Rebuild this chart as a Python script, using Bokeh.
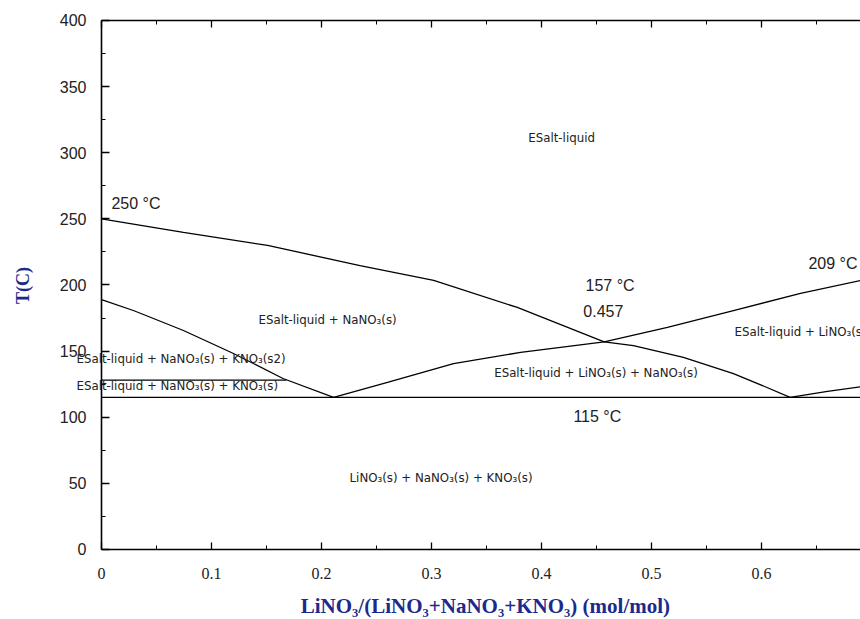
import math
from bokeh.plotting import figure
from bokeh.models import Range1d, LinearAxis, FixedTicker, Label
from bokeh.embed import file_html
from bokeh.resources import INLINE

# ---- data ----
x_ticks = [0, 0.1, 0.2, 0.3, 0.4, 0.5, 0.6, 0.7]
x_tick_labels = ["0", "0.1", "0.2", "0.3", "0.4", "0.5", "0.6", "0.7"]
x_minor = [0.05, 0.15, 0.25, 0.35, 0.45, 0.55, 0.65]
y_ticks = [0, 50, 100, 150, 200, 250, 300, 350, 400]
y_minor = [25, 75, 125, 175, 225, 275, 325, 375]

# NaNO3 liquidus (250 C at x=0, through 0.457/157 C, down to 115 C)
nano3_x = [0, 0.0745, 0.151, 0.235, 0.302, 0.378, 0.457, 0.4836, 0.529, 0.5745, 0.605, 0.626]
nano3_T = [250, 239.7, 229.9, 214.7, 203.4, 183, 157, 154.2, 145.2, 133, 122.5, 115]

# KNO3 liquidus
kno3_x = [0, 0.029, 0.0745, 0.12, 0.165, 0.211]
kno3_T = [189, 180.7, 165.6, 148.2, 129.3, 115]

# LiNO3 liquidus
lino3_x = [0.211, 0.26, 0.32, 0.381, 0.457, 0.5145, 0.5745, 0.6355, 0.69]
lino3_T = [115, 126.3, 140.6, 149, 157, 167.9, 180.7, 193.6, 203.4]

# right branch from second eutectic
right_x = [0.626, 0.66, 0.69]
right_T = [115, 119.5, 123]

# eutectic line and KNO3 transition line
eut_x = [0, 0.69]
eut_T = [115, 115]
trans_x = [0, 0.168]
trans_T = [128, 128]

labels_small = [
    ("ESalt-liquid", 0.388, 310.8),
    ("ESalt-liquid + NaNO\u2083(s)", 0.1427, 173.9),
    ("ESalt-liquid + NaNO\u2083(s) + KNO\u2083(s2)", -0.0227, 143.7),
    ("ESalt-liquid + NaNO\u2083(s) + KNO\u2083(s)", -0.0227, 123.3),
    ("ESalt-liquid + LiNO\u2083(s) + NaNO\u2083(s)", 0.357, 133.1),
    ("ESalt-liquid + LiNO\u2083(s)", 0.5755, 164.8),
    ("LiNO\u2083(s) + NaNO\u2083(s) + KNO\u2083(s)", 0.2255, 53.7),
]
labels_big = [
    ("250 \u00b0C", 0.009, 261.6),
    ("157 \u00b0C", 0.44, 199.6),
    ("0.457", 0.438, 180.0),
    ("209 \u00b0C", 0.6427, 216.3),
    ("115 \u00b0C", 0.429, 100.6),
]
x_title = "LiNO\u2083/(LiNO\u2083+NaNO\u2083+KNO\u2083) (mol/mol)"
y_title = "T(C)"

# the frame covers the whole canvas; axes sit at x = 0 / T = 0 / T = 400
X0, X1 = -0.0918, 0.69
Y0, Y1 = -52.93, 415.1

p = figure(width=860, height=619, output_backend="svg", toolbar_location=None,
           x_range=Range1d(X0, X1), y_range=Range1d(Y0, Y1),
           x_axis_location=None, y_axis_location=None,
           min_border_left=0, min_border_right=0, min_border_top=0, min_border_bottom=0)
p.outline_line_color = None
p.xgrid.visible = False
p.ygrid.visible = False
p.background_fill_color = "white"
p.border_fill_color = "white"

lc = "#000000"
for xs, ts in [(nano3_x, nano3_T), (kno3_x, kno3_T), (lino3_x, lino3_T),
               (right_x, right_T), (eut_x, eut_T), (trans_x, trans_T)]:
    p.line(xs, ts, line_color=lc, line_width=1.3)

axis_col = "#1c2a8c"
tick_col = "#222222"

# bottom axis at T = 0
xa = LinearAxis(ticker=FixedTicker(ticks=x_ticks, minor_ticks=x_minor), bounds=(0, X1),
                fixed_location=0)
xa.major_label_overrides = {t: l for t, l in zip(x_ticks, x_tick_labels)}
xa.major_tick_in = 7
xa.major_tick_out = 0
xa.minor_tick_in = 4
xa.minor_tick_out = 0
xa.axis_line_width = 1.6
xa.major_tick_line_width = 1.3
xa.major_label_standoff = 19
xa.major_label_text_font = "Liberation Sans Narrow"
xa.major_label_text_font_size = "16px"
xa.major_label_text_color = tick_col
p.add_layout(xa, "below")

# left axis at x = 0
ya = LinearAxis(ticker=FixedTicker(ticks=y_ticks, minor_ticks=y_minor), bounds=(0, 400),
                fixed_location=0)
ya.major_tick_in = 8
ya.major_tick_out = 0
ya.minor_tick_in = 4
ya.minor_tick_out = 0
ya.axis_line_width = 1.6
ya.major_tick_line_width = 1.3
ya.major_label_standoff = 15
ya.major_label_text_font = "Liberation Sans"
ya.major_label_text_font_size = "16px"
ya.major_label_text_color = tick_col
p.add_layout(ya, "left")

# top border: two tick-only axes at T = 400 (long ticks at majors, short at minors)
top_major = LinearAxis(ticker=FixedTicker(ticks=[], minor_ticks=x_ticks), bounds=(0, X1),
                       fixed_location=400, minor_tick_in=7, minor_tick_out=0,
                       minor_tick_line_width=1.3, axis_line_width=1.6,
                       major_tick_in=0, major_tick_out=0)
top_minor = LinearAxis(ticker=FixedTicker(ticks=[], minor_ticks=x_minor), bounds=(0, X1),
                       fixed_location=400, minor_tick_in=4, minor_tick_out=0,
                       axis_line_alpha=0, major_tick_in=0, major_tick_out=0)
p.add_layout(top_major, "above")
p.add_layout(top_minor, "above")

# axis titles
p.add_layout(Label(x=0.349, y=-43.1, text=x_title, text_font="Liberation Serif",
                   text_font_style="bold", text_font_size="21px", text_color=axis_col,
                   text_align="center", text_baseline="middle"))
p.add_layout(Label(x=-0.0718, y=199.6, text=y_title, text_font="Liberation Serif",
                   text_font_style="bold", text_font_size="18px", text_color=axis_col,
                   text_align="center", text_baseline="middle", angle=math.pi / 2))

for txt, x, y in labels_small:
    p.add_layout(Label(x=x, y=y, text=txt, text_font="DejaVu Sans", text_font_size="11.8px",
                       text_color=tick_col, text_baseline="middle", text_align="left"))
for txt, x, y in labels_big:
    p.add_layout(Label(x=x, y=y, text=txt, text_font="Liberation Sans", text_font_size="16px",
                       text_color=tick_col, text_baseline="middle", text_align="left"))

open("out.html", "w").write(file_html(p, INLINE))
